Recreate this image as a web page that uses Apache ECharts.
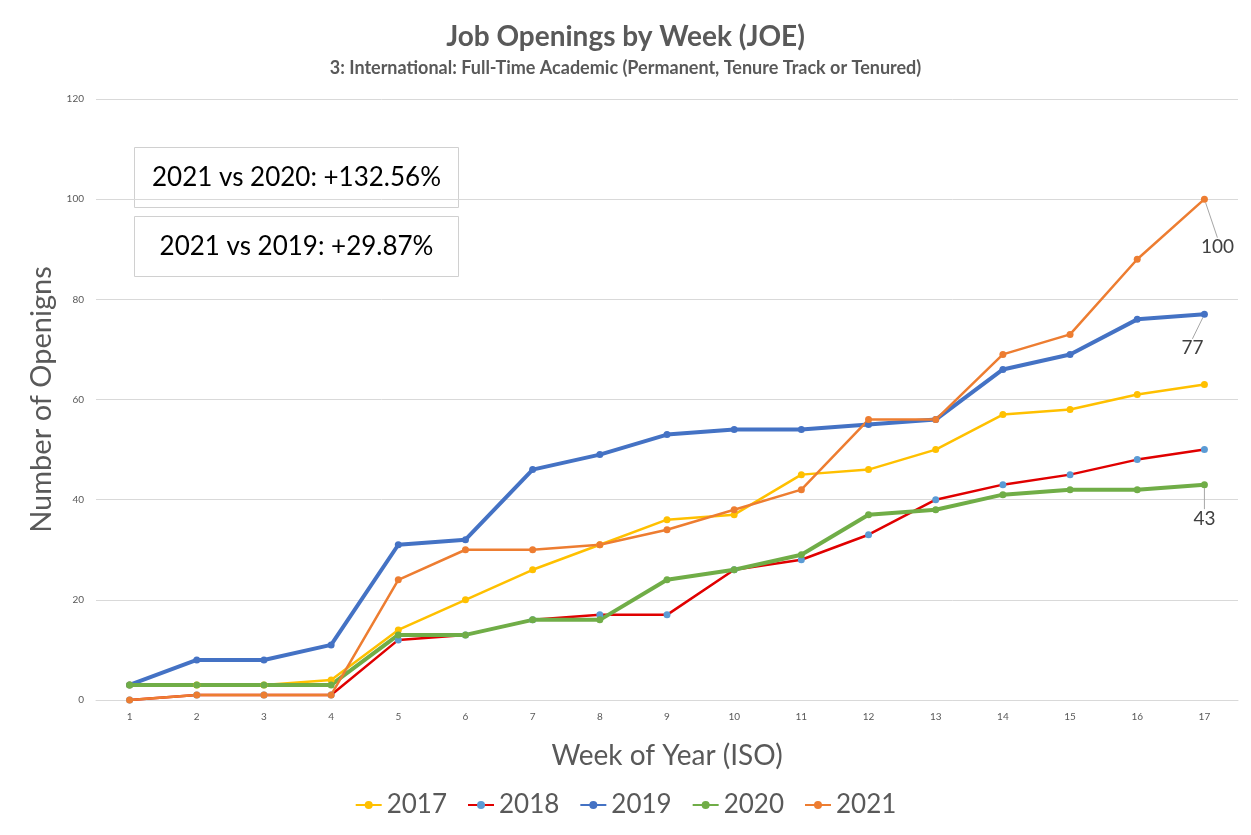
<!DOCTYPE html>
<html>
<head>
<meta charset="utf-8">
<script src="https://cdn.jsdelivr.net/npm/echarts@6/dist/echarts.min.js"></script>
<style>
  html, body { margin: 0; padding: 0; background: #fff; }
  #main { width: 1251px; height: 835px; }
</style>
</head>
<body>
<div id="main"></div>
<script>
var weeks = ['1','2','3','4','5','6','7','8','9','10','11','12','13','14','15','16','17'];
var y2017 = [3, 3, 3, 4, 14, 20, 26, 31, 36, 37, 45, 46, 50, 57, 58, 61, 63];
var y2018 = [0, 1, 1, 1, 12, 13, 16, 17, 17, 26, 28, 33, 40, 43, 45, 48, 50];
var y2019 = [3, 8, 8, 11, 31, 32, 46, 49, 53, 54, 54, 55, 56, 66, 69, 76, 77];
var y2020 = [3, 3, 3, 3, 13, 13, 16, 16, 24, 26, 29, 37, 38, 41, 42, 42, 43];
var y2021 = [0, 1, 1, 1, 24, 30, 30, 31, 34, 38, 42, 56, 56, 69, 73, 88, 100];
var notes = ['2021 vs 2020: +132.56%', '2021 vs 2019: +29.87%'];

var font = 'Lato, "Open Sans", sans-serif';
var grey = '#595959';

// label only the last point, pulled off the marker with a small leader line
function lastLabel(values, dx, dy) {
  return {
    data: values.map(function (v, i) {
      if (i !== values.length - 1) return v;
      return {
        value: v,
        label: { show: true, position: 'inside', color: '#404040', fontSize: 19, fontFamily: font, formatter: '{c}' },
        labelLine: { show: true, lineStyle: { color: '#a6a6a6', width: 1 } }
      };
    }),
    labelLayout: function (p) {
      if (p.dataIndex !== values.length - 1) return {};
      return { dx: dx, dy: dy };
    }
  };
}

function mk(name, values, color, markColor, width, extra) {
  var s = {
    name: name,
    type: 'line',
    data: values,
    symbol: 'circle',
    symbolSize: 7,
    lineStyle: { color: color, width: width },
    itemStyle: { color: markColor, borderWidth: 0 },
    emphasis: { disabled: true }
  };
  if (extra) { s.data = extra.data; s.labelLayout = extra.labelLayout; }
  return s;
}

var chart = echarts.init(document.getElementById('main'));
chart.setOption({
  animation: false,
  backgroundColor: '#fff',
  title: {
    text: 'Job Openings by Week (JOE)',
    subtext: '3: International: Full-Time Academic (Permanent, Tenure Track or Tenured)',
    left: 'center',
    top: 18,
    itemGap: 8,
    textStyle: { fontFamily: font, fontSize: 28, fontWeight: 'bold', color: grey },
    subtextStyle: { fontFamily: font, fontSize: 18, fontWeight: 'bold', color: grey }
  },
  legend: {
    bottom: 12,
    left: 'center',
    itemWidth: 26,
    itemHeight: 10,
    itemGap: 20,
    textStyle: { fontFamily: font, fontSize: 26, color: grey },
    data: ['2017', '2018', '2019', '2020', '2021']
  },
  grid: { left: 96, right: 13, top: 99, bottom: 135 },
  xAxis: {
    type: 'category',
    data: weeks,
    boundaryGap: true,
    name: 'Week of Year (ISO)',
    nameLocation: 'middle',
    nameGap: 42,
    nameTextStyle: { fontFamily: font, fontSize: 28, color: grey },
    axisLine: { lineStyle: { color: '#d9d9d9' } },
    axisTick: { show: false },
    axisLabel: { color: grey, fontSize: 10, fontFamily: font, margin: 12 }
  },
  yAxis: {
    type: 'value',
    min: 0,
    max: 120,
    interval: 20,
    name: 'Number of Openigns',
    nameLocation: 'middle',
    nameGap: 40,
    nameTextStyle: { fontFamily: font, fontSize: 29, color: grey },
    axisLine: { show: false },
    axisTick: { show: false },
    axisLabel: { color: grey, fontSize: 10, fontFamily: font, margin: 12 },
    splitLine: { lineStyle: { color: '#d9d9d9' } }
  },
  graphic: notes.map(function (t, i) {
    return {
      type: 'group',
      left: 134,
      top: 147 + i * 69,
      children: [
        { type: 'rect', shape: { x: 0, y: 0, width: 324, height: 60 },
          style: { fill: '#fff', stroke: '#d0d0d0', lineWidth: 1 } },
        { type: 'text', x: 162, y: 30,
          style: { text: t, fill: '#000', fontSize: 26, fontFamily: font, align: 'center', verticalAlign: 'middle' } }
      ]
    };
  }),
  series: [
    mk('2017', y2017, '#ffc000', '#ffc000', 2.5),
    mk('2018', y2018, '#e00000', '#5b9bd5', 2.5),
    mk('2019', y2019, '#4472c4', '#4472c4', 4, lastLabel(y2019, -12, 34)),
    mk('2020', y2020, '#70ad47', '#70ad47', 4, lastLabel(y2020, 0, 34)),
    mk('2021', y2021, '#ed7d31', '#ed7d31', 2.5, lastLabel(y2021, 13, 48))
  ]
});
</script>
</body>
</html>
